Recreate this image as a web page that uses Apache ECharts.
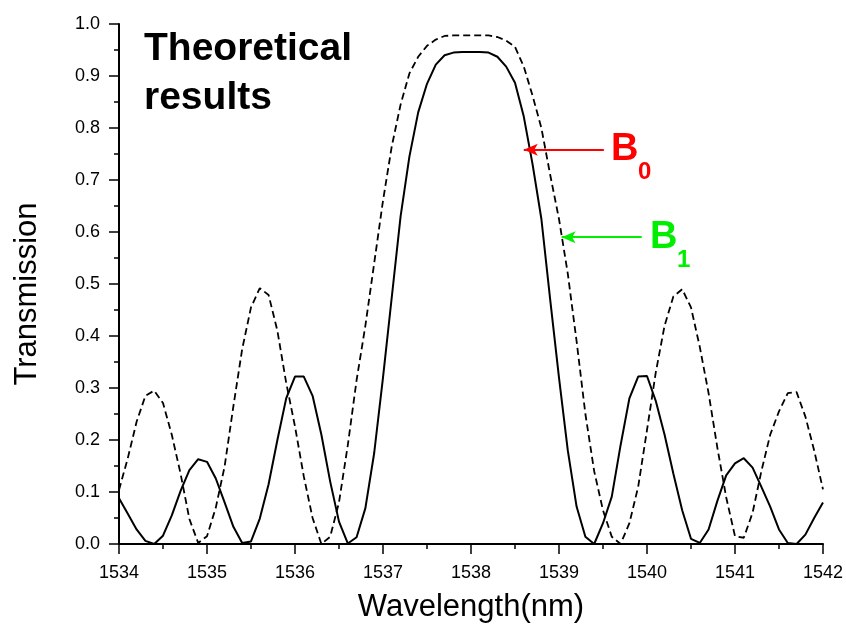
<!DOCTYPE html>
<html>
<head>
<meta charset="utf-8">
<script src="https://cdn.jsdelivr.net/npm/echarts@6/dist/echarts.min.js"></script>
<style>
  html, body { margin: 0; padding: 0; background: #fff; }
  #chart { width: 846px; height: 629px; }
</style>
</head>
<body>
<div id="chart"></div>
<script>
// Wavelength grid (nm)
const wavelength = [
  1534.0, 1534.1, 1534.2, 1534.3, 1534.4, 1534.5, 1534.6, 1534.7, 1534.8, 1534.9,
  1535.0, 1535.1, 1535.2, 1535.3, 1535.4, 1535.5, 1535.6, 1535.7, 1535.8, 1535.9,
  1536.0, 1536.1, 1536.2, 1536.3, 1536.4, 1536.5, 1536.6, 1536.7, 1536.8, 1536.9,
  1537.0, 1537.1, 1537.2, 1537.3, 1537.4, 1537.5, 1537.6, 1537.7, 1537.8, 1537.9,
  1538.0, 1538.1, 1538.2, 1538.3, 1538.4, 1538.5, 1538.6, 1538.7, 1538.8, 1538.9,
  1539.0, 1539.1, 1539.2, 1539.3, 1539.4, 1539.5, 1539.6, 1539.7, 1539.8, 1539.9,
  1540.0, 1540.1, 1540.2, 1540.3, 1540.4, 1540.5, 1540.6, 1540.7, 1540.8, 1540.9,
  1541.0, 1541.1, 1541.2, 1541.3, 1541.4, 1541.5, 1541.6, 1541.7, 1541.8, 1541.9,
  1542.0
];

// Transmission for B0 (solid curve)
const transB0 = [
  0.088, 0.058, 0.028, 0.006, 0.000, 0.016, 0.055, 0.102, 0.142, 0.163,
  0.158, 0.126, 0.080, 0.033, 0.002, 0.005, 0.049, 0.115, 0.200, 0.280,
  0.322, 0.322, 0.285, 0.210, 0.120, 0.043, 0.001, 0.013, 0.069, 0.175,
  0.320, 0.475, 0.630, 0.745, 0.830, 0.885, 0.922, 0.940, 0.945, 0.946,
  0.946, 0.946, 0.945, 0.937, 0.918, 0.887, 0.822, 0.730, 0.625, 0.470,
  0.320, 0.180, 0.072, 0.014, 0.000, 0.040, 0.091, 0.190, 0.280, 0.322,
  0.323, 0.275, 0.210, 0.135, 0.065, 0.010, 0.002, 0.028, 0.083, 0.132,
  0.155, 0.165, 0.147, 0.110, 0.072, 0.028, 0.002, 0.000, 0.018, 0.050,
  0.080
];

// Transmission for B1 (dashed curve)
const transB1 = [
  0.104, 0.165, 0.235, 0.285, 0.295, 0.271, 0.210, 0.135, 0.048, 0.002,
  0.015, 0.070, 0.149, 0.265, 0.375, 0.455, 0.492, 0.479, 0.410, 0.310,
  0.226, 0.130, 0.050, 0.000, 0.014, 0.080, 0.190, 0.315, 0.420, 0.540,
  0.660, 0.765, 0.845, 0.905, 0.937, 0.958, 0.970, 0.977, 0.978, 0.978,
  0.978, 0.978, 0.978, 0.975, 0.968, 0.956, 0.918, 0.862, 0.800, 0.710,
  0.625, 0.520, 0.390, 0.250, 0.140, 0.065, 0.014, 0.000, 0.040, 0.110,
  0.219, 0.330, 0.420, 0.476, 0.490, 0.455, 0.379, 0.290, 0.185, 0.090,
  0.015, 0.012, 0.060, 0.140, 0.210, 0.255, 0.290, 0.292, 0.245, 0.180,
  0.105
];

// Annotation arrows: [tail, tip] in data coordinates
const arrowB0 = [[1539.51, 0.758], [1538.60, 0.758]];
const arrowB1 = [[1539.94, 0.590], [1539.03, 0.590]];

const xTicks = ['1534','1535','1536','1537','1538','1539','1540','1541','1542'];
const yTicks = ['0.0','0.1','0.2','0.3','0.4','0.5','0.6','0.7','0.8','0.9','1.0'];

const FONT = '"Liberation Sans", Arial, Helvetica, sans-serif';

const pairs = (xs, ys) => xs.map((x, i) => [x, ys[i]]);

const chart = echarts.init(document.getElementById('chart'), null, { renderer: 'canvas' });

const axisCommon = {
  axisLine: { show: true, onZero: false, lineStyle: { color: '#000', width: 2 } },
  axisTick: { show: true, inside: false, length: 10, lineStyle: { color: '#000', width: 1.5 } },
  minorTick: { show: true, splitNumber: 2, length: 5, lineStyle: { color: '#000', width: 1.5 } },
  splitLine: { show: false },
  minorSplitLine: { show: false }
};

chart.setOption({
  animation: false,
  backgroundColor: '#fff',
  grid: { left: 119, right: 23, top: 24, bottom: 85, containLabel: false },
  xAxis: Object.assign({
    type: 'value',
    min: 1534, max: 1542, interval: 1,
    name: 'Wavelength(nm)',
    nameLocation: 'middle',
    nameGap: 48,
    nameTextStyle: { fontFamily: FONT, fontSize: 31, color: '#000' },
    axisLabel: {
      fontFamily: FONT, fontSize: 18, color: '#000', margin: 20,
      formatter: v => xTicks[Math.round(v - 1534)]
    }
  }, axisCommon),
  yAxis: Object.assign({
    type: 'value',
    min: 0, max: 1, interval: 0.1,
    name: 'Transmission',
    nameLocation: 'middle',
    nameGap: 76,
    nameTextStyle: { fontFamily: FONT, fontSize: 31, color: '#000', padding: [0, 20, 0, 0] },
    axisLabel: {
      fontFamily: FONT, fontSize: 18, color: '#000', margin: 19,
      formatter: v => yTicks[Math.round(v * 10)]
    }
  }, axisCommon),
  series: [
    {
      name: 'B0',
      type: 'line',
      data: pairs(wavelength, transB0),
      symbol: 'none',
      lineStyle: { color: '#000', width: 2 },
      markLine: {
        silent: true,
        symbol: ['none', 'arrow'],
        symbolSize: [9, 14],
        label: { show: false },
        lineStyle: { color: '#ff0000', width: 2, type: 'solid' },
        data: [[{ coord: arrowB0[0] }, { coord: arrowB0[1] }]]
      }
    },
    {
      name: 'B1',
      type: 'line',
      data: pairs(wavelength, transB1),
      symbol: 'none',
      lineStyle: { color: '#000', width: 1.8, type: [7, 4] },
      markLine: {
        silent: true,
        symbol: ['none', 'arrow'],
        symbolSize: [9, 14],
        label: { show: false },
        lineStyle: { color: '#00ee00', width: 2, type: 'solid' },
        data: [[{ coord: arrowB1[0] }, { coord: arrowB1[1] }]]
      }
    }
  ],
  graphic: [
    { type: 'text', left: 144, top: 30, silent: true,
      style: { text: 'Theoretical', font: 'bold 39px ' + FONT, fill: '#000' } },
    { type: 'text', left: 144, top: 79, silent: true,
      style: { text: 'results', font: 'bold 39px ' + FONT, fill: '#000' } },
    { type: 'text', left: 611, top: 131, silent: true,
      style: { text: 'B', font: 'bold 38px ' + FONT, fill: '#ff0000' } },
    { type: 'text', left: 638, top: 160, silent: true,
      style: { text: '0', font: 'bold 24px ' + FONT, fill: '#ff0000' } },
    { type: 'text', left: 650, top: 219, silent: true,
      style: { text: 'B', font: 'bold 38px ' + FONT, fill: '#00ee00' } },
    { type: 'text', left: 677, top: 248, silent: true,
      style: { text: '1', font: 'bold 24px ' + FONT, fill: '#00ee00' } }
  ]
});
</script>
</body>
</html>
